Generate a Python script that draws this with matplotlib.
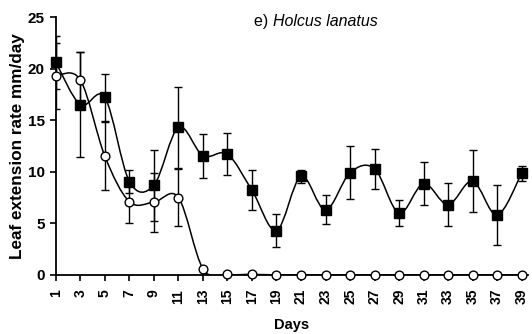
import numpy as np
import matplotlib
matplotlib.use("Agg")
import matplotlib.pyplot as plt
from matplotlib.path import Path
from matplotlib.patches import PathPatch

days = [1, 3, 5, 7, 9, 11, 13, 15, 17, 19, 21, 23, 25, 27, 29, 31, 33, 35, 37, 39]
filled = [20.6, 16.5, 17.2, 9.05, 8.7, 14.3, 11.55, 11.7, 8.2, 4.3, 9.55, 6.3, 9.9, 10.3,
          6.0, 8.85, 6.8, 9.1, 5.8, 9.85]
filled_err = [2.6, 5.1, 2.3, 1.15, 3.45, 3.9, 2.15, 2.05, 1.95, 1.6, 0.65, 1.4, 2.55, 1.95,
              1.3, 2.1, 2.1, 3.0, 2.95, 0.75]
open_days = [1, 3, 5, 7, 9, 11, 13, 15, 17, 19, 21, 23, 25, 27, 29, 31, 33, 35, 37, 39]
open_vals = [19.3, 18.9, 11.5, 7.1, 7.05, 7.5, 0.6, 0.05, 0.05, 0, 0, 0, 0, 0, 0, 0, 0, 0, 0, 0]
open_err = [3.2, 2.7, 3.3, 2.1, 2.85, 2.75, 0, 0, 0, 0, 0, 0, 0, 0, 0, 0, 0, 0, 0, 0]

plt.rcParams['font.family'] = ['Liberation Sans', 'DejaVu Sans']

fig = plt.figure(figsize=(5.32, 3.34), dpi=100)
ax = fig.add_axes([0.105, 0.177, 0.887, 0.772])


def smooth_path(xs, ys):
    xs = np.asarray(xs, float)
    ys = np.asarray(ys, float)
    n = len(xs)
    verts = [(xs[0], ys[0])]
    codes = [Path.MOVETO]
    for i in range(n - 1):
        p0 = np.array([xs[max(i - 1, 0)], ys[max(i - 1, 0)]])
        p1 = np.array([xs[i], ys[i]])
        p2 = np.array([xs[i + 1], ys[i + 1]])
        p3 = np.array([xs[min(i + 2, n - 1)], ys[min(i + 2, n - 1)]])
        c1 = p1 + (p2 - p0) / 6.0
        c2 = p2 - (p3 - p1) / 6.0
        verts += [tuple(c1), tuple(c2), tuple(p2)]
        codes += [Path.CURVE4] * 3
    return Path(verts, codes)


ax.add_patch(PathPatch(smooth_path(days, filled), fill=False, lw=1.1, color='black', zorder=2))
ax.add_patch(PathPatch(smooth_path(open_days, open_vals), fill=False, lw=1.1, color='black', zorder=2))

oe = np.array(open_err)
mask = oe > 0
ax.errorbar(np.array(open_days)[mask], np.array(open_vals)[mask], yerr=oe[mask], fmt='none',
            ecolor='black', elinewidth=1.0, capsize=3.2, capthick=1.0, zorder=3)
ax.errorbar(days, filled, yerr=filled_err, fmt='none', ecolor='black', elinewidth=1.0,
            capsize=3.2, capthick=1.0, zorder=3)

ax.plot(open_days, open_vals, 'o', ms=6.3, mfc='white', mec='black', mew=1.0, zorder=4, clip_on=False)
ax.plot(days, filled, 's', ms=6.5, mfc='black', mec='black', zorder=5, clip_on=False)

ax.set_xlim(1, 39.5)
ax.set_ylim(0, 25)
ax.set_xticks(days)
ax.set_xticklabels([str(d) for d in days], rotation=90, fontweight='bold', fontsize=10)
ax.set_yticks([0, 5, 10, 15, 20, 25])
ax.set_yticklabels(['0', '5', '10', '15', '20', '25'], fontweight='bold', fontsize=11)
ax.tick_params(axis='both', direction='out', length=4, width=1.2, colors='black')
ax.tick_params(axis='x', pad=6)
ax.tick_params(axis='y', pad=4)
for s in ['top', 'right']:
    ax.spines[s].set_visible(False)
for s in ['left', 'bottom']:
    ax.spines[s].set_linewidth(1.3)

ax.set_ylabel('Leaf extension rate mm/day', fontweight='bold', fontsize=12.3, labelpad=2)
ax.set_xlabel('Days', fontweight='bold', fontsize=10.5, labelpad=10)

t1 = ax.text(0.4195, 1.01, 'e) ', transform=ax.transAxes, fontsize=11.5, ha='left', va='top')
ax.annotate('Holcus lanatus', xy=(1, 0), xycoords=t1, fontsize=11.5, style='italic',
            ha='left', va='bottom')

fig.savefig('out.png', dpi=100)
